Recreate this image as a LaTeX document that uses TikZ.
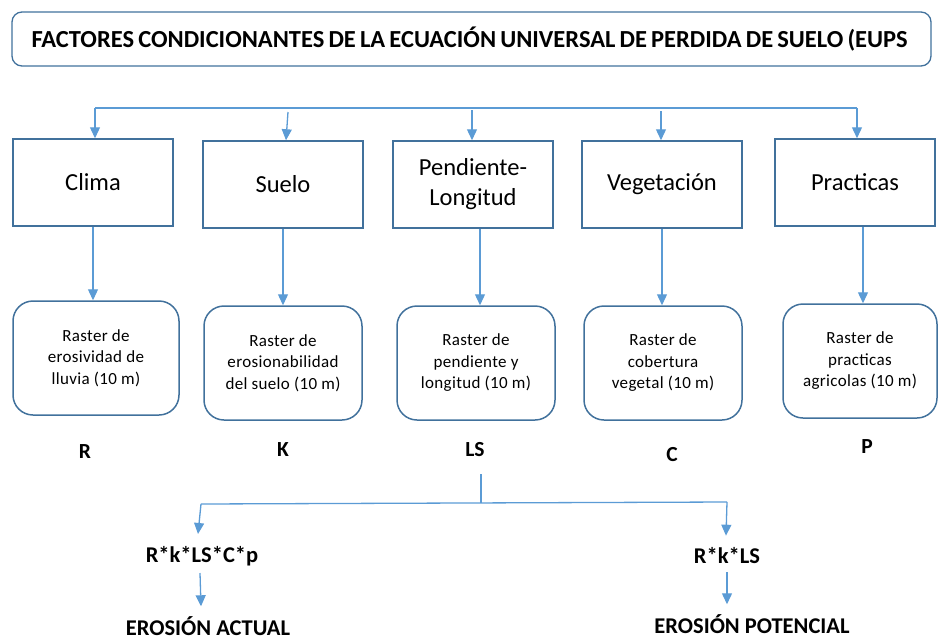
\documentclass[tikz,border=0pt]{standalone}
\usepackage{fontspec}
\setmainfont{Carlito}
\usetikzlibrary{arrows.meta}
\definecolor{boxline}{RGB}{65,113,156}
\definecolor{conn}{RGB}{91,155,213}
\tikzset{
  topbox/.style={draw=boxline, line width=1.5pt, minimum width=160pt, minimum height=87pt, inner sep=0pt, align=center, font=\fontsize{24.5}{30}\selectfont},
  rastbox/.style={draw=boxline, line width=1.5pt, rounded corners=20pt, minimum width=158pt, minimum height=114pt, inner sep=0pt, align=center, font=\addfontfeatures{LetterSpace=2}\fontsize{17}{21.5}\selectfont},
  lett/.style={font=\bfseries\fontsize{21.5}{24}\selectfont, inner sep=0pt},
  res/.style={font=\bfseries\fontsize{22.5}{26}\selectfont, inner sep=0pt},
  arr/.style={draw=conn, line width=1.3pt, -{Triangle[width=10pt,length=11pt]}},
  ln/.style={draw=conn, line width=1.3pt}
}
\begin{document}
\begin{tikzpicture}[x=1pt,y=-1pt]
\useasboundingbox (0,0) rectangle (938,641);
% title
\node[draw=boxline, line width=1.3pt, rounded corners=10pt, minimum width=919pt, minimum height=54pt, text width=880pt, inner xsep=19.5pt, align=left, font=\bfseries\fontsize{24.5}{28}\selectfont] (title) at (471.5,39) {\spaceskip=0.17em FACTORES CONDICIONANTES DE LA ECUACIÓN UNIVERSAL DE PERDIDA DE SUELO (EUPS};
% factor boxes
\node[topbox] (clima) at (93,182.5) {Clima};
\node[topbox] (suelo) at (283,184.5) {Suelo};
\node[topbox] (pend) at (473,184.5) {Pendiente-\\Longitud};
\node[topbox] (veg) at (662,184.5) {Vegetación};
\node[topbox] (prac) at (855,182.5) {Practicas};
% distribution line
\coordinate (l1) at (95,108);
\coordinate (l5) at (857,108);
\coordinate (s2) at (288,112);
\coordinate (s3) at (472,110);
\coordinate (s4) at (661,111);
\draw[ln] (l1) -- (l5);
\draw[arr] (l1) -- (clima.north -| l1);
\draw[arr] (s2) -- (suelo.north -| 286,0);
\draw[arr] (s3) -- (pend.north -| s3);
\draw[arr] (s4) -- (veg.north -| s4);
\draw[arr] (l5) -- (prac.north -| l5);
% raster boxes
\node[rastbox, minimum width=166pt] (r1) at (96,358) {Raster de\\erosividad de\\lluvia (10 m)};
\node[rastbox] (r2) at (283,363) {Raster de\\erosionabilidad\\del suelo (10 m)};
\node[rastbox] (r3) at (476,363) {Raster de\\pendiente y\\longitud (10 m)};
\node[rastbox] (r4) at (663,363) {Raster de\\cobertura\\vegetal (10 m)};
\node[rastbox, minimum width=154pt] (r5) at (860,361) {Raster de\\practicas\\agricolas (10 m)};
\draw[arr] (clima.south -| 93,0) -- (r1.north -| 93,0);
\draw[arr] (suelo.south -| 283,0) -- (r2.north -| 283,0);
\draw[arr] (pend.south -| 480,0) -- (r3.north -| 480,0);
\draw[arr] (veg.south -| 662,0) -- (r4.north -| 662,0);
\draw[arr] (prac.south -| 863,0) -- (r5.north -| 863,0);
% letters
\node[lett] (R) at (85,452) {R};
\node[lett] (K) at (283,450) {K};
\node[lett] (LS) at (475,450) {LS};
\node[lett] (C) at (672,455) {C};
\node[lett] (P) at (867,447) {P};
% bottom split
\coordinate (v1) at (481,474);
\coordinate (v2) at (481,503);
\coordinate (h1) at (201,504);
\coordinate (h2) at (727,502);
\draw[ln] (v1) -- (v2);
\draw[ln] (h1) -- (h2);
\node[res] (f1) at (202,556) {R*k*LS*C*p};
\node[res] (f2) at (727,556) {R*k*LS};
\draw[arr] (h1) -- ([yshift=12pt]f1.north -| 198,0);
\draw[arr] (h2) -- ([yshift=12pt]f2.north -| 726,0);
\coordinate (a1) at (200,573);
\coordinate (a2) at (727,572);
\node[res] (e1) at (208,626) {EROSIÓN ACTUAL};
\node[res] (e2) at (752,624) {EROSIÓN POTENCIAL};
\draw[arr] (a1) -- ([yshift=10pt]e1.north -| 201,0);
\draw[arr] (a2) -- ([yshift=10pt]e2.north -| 727,0);
\end{tikzpicture}
\end{document}
